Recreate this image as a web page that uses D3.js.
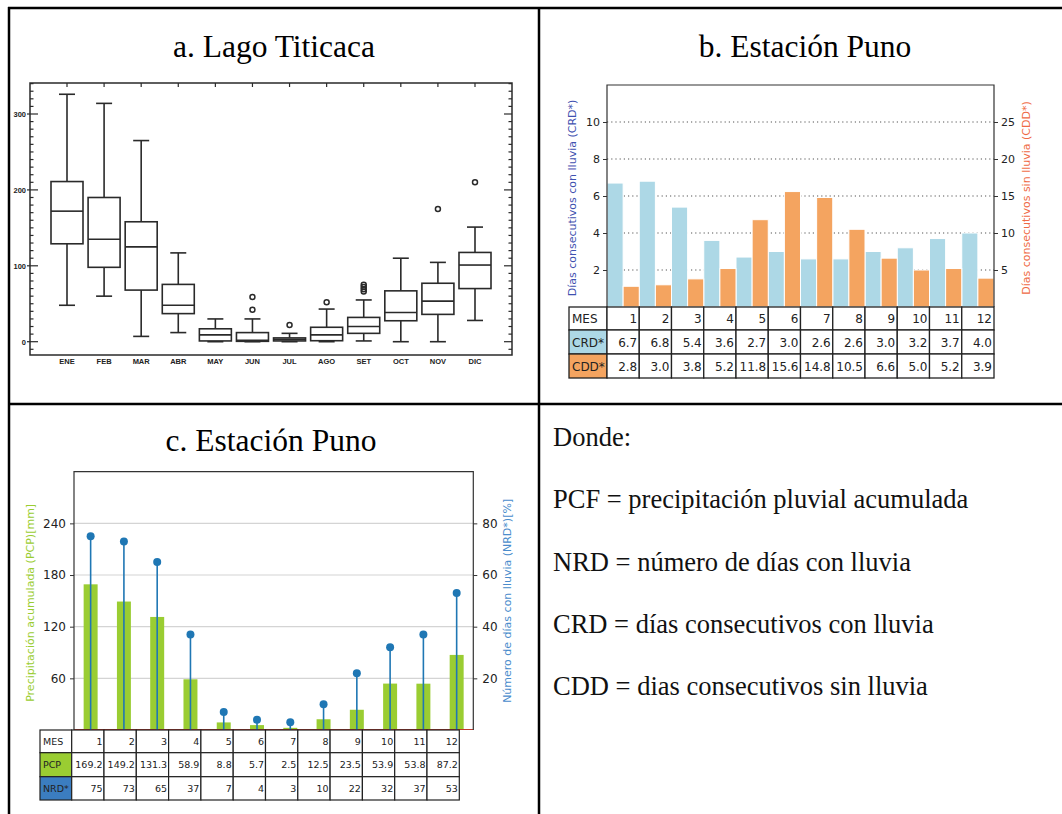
<!DOCTYPE html>
<html>
<head>
<meta charset="utf-8">
<script src="https://cdn.jsdelivr.net/npm/d3@7"></script>
<style>
  html, body { margin: 0; padding: 0; background: #fff; }
  svg { display: block; }
</style>
</head>
<body>
<svg id="chart" width="1062" height="814"></svg>
<script>
// ---------- Panel a data (boxplot, Lago Titicaca) ----------
const monthsA = ["ENE","FEB","MAR","ABR","MAY","JUN","JUL","AGO","SET","OCT","NOV","DIC"];
const whiskLo = [48, 60, 7, 12, 0, 0, 0, 0, 1, 0, 0, 28];
const q1A     = [129, 98, 68, 37, 1, 0.5, 1, 1.3, 11, 27.6, 36, 70];
const medA    = [172, 135, 125, 48, 9, 2, 3, 9, 20, 38.5, 53.5, 101];
const q3A     = [211, 190, 158, 75.5, 17, 12, 5, 19, 32, 67, 77, 117.6];
const whiskHi = [326, 314, 265, 117, 30, 30, 11, 43, 55, 110, 104.5, 151];
const outliersA = [[], [], [], [], [], [59, 42], [22], [52], [66, 69, 72, 75], [], [175], [210]];
const yTicksA = [0, 100, 200, 300];

// ---------- Panel b data ----------
const mesB = [1,2,3,4,5,6,7,8,9,10,11,12];
const crd = [6.7, 6.8, 5.4, 3.6, 2.7, 3.0, 2.6, 2.6, 3.0, 3.2, 3.7, 4.0];
const cdd = [2.8, 3.0, 3.8, 5.2, 11.8, 15.6, 14.8, 10.5, 6.6, 5.0, 5.2, 3.9];
const yTicksBL = [2, 4, 6, 8, 10];
const yTicksBR = [5, 10, 15, 20, 25];

// ---------- Panel c data ----------
const mesC = [1,2,3,4,5,6,7,8,9,10,11,12];
const pcp = [169.2, 149.2, 131.3, 58.9, 8.8, 5.7, 2.5, 12.5, 23.5, 53.9, 53.8, 87.2];
const nrd = [75, 73, 65, 37, 7, 4, 3, 10, 22, 32, 37, 53];
const yTicksCL = [60, 120, 180, 240];
const yTicksCR = [20, 40, 60, 80];

// ---------- Text panel ----------
const definitions = [
  "Donde:",
  "PCF = precipitación pluvial acumulada",
  "NRD = número de días con lluvia",
  "CRD = días consecutivos con lluvia",
  "CDD = dias consecutivos sin lluvia"
];

const svg = d3.select("#chart");
const serif = "'Liberation Serif', 'Times New Roman', serif";
const sans = "'DejaVu Sans', sans-serif";

// ================= Outer frame =================
const frame = svg.append("g").attr("stroke", "#000").attr("stroke-width", 2.5);
frame.append("line").attr("x1", 9).attr("x2", 9).attr("y1", 7).attr("y2", 814);
frame.append("line").attr("x1", 8).attr("x2", 1062).attr("y1", 8).attr("y2", 8);
frame.append("line").attr("x1", 8).attr("x2", 1062).attr("y1", 404).attr("y2", 404);
frame.append("line").attr("x1", 539).attr("x2", 539).attr("y1", 8).attr("y2", 814);

// Titles
const titles = [
  {t: "a. Lago Titicaca", x: 274, y: 57},
  {t: "b. Estación Puno", x: 805, y: 57},
  {t: "c. Estación Puno", x: 271, y: 451}
];
svg.selectAll("text.title").data(titles).enter().append("text")
  .attr("class", "title")
  .attr("x", d => d.x).attr("y", d => d.y)
  .attr("text-anchor", "middle")
  .style("font-family", serif).style("font-size", "31.5px")
  .text(d => d.t);

// ================= Panel a =================
(function() {
  const g = svg.append("g");
  const L = 30, R = 512, T = 83, B = 355;
  const x = d3.scalePoint().domain(monthsA).range([67, 475]);
  const y = d3.scaleLinear().domain([0, 300]).range([341.7, 114]);
  const col = "#2a2a2a";
  const bw = 32;

  const minor = d3.range(-10, 341, 10);
  minor.forEach(v => {
    const major = v % 100 === 0;
    g.append("line").attr("x1", L - (major ? 3 : 0)).attr("x2", L + (major ? 8 : 3.5))
      .attr("y1", y(v)).attr("y2", y(v)).attr("stroke", col).attr("stroke-width", 1.2);
    g.append("line").attr("x1", R - (major ? 8 : 3.5)).attr("x2", R)
      .attr("y1", y(v)).attr("y2", y(v)).attr("stroke", col).attr("stroke-width", 1.2);
  });
  monthsA.forEach(m => {
    g.append("line").attr("x1", x(m)).attr("x2", x(m)).attr("y1", T).attr("y2", T + 4)
      .attr("stroke", col).attr("stroke-width", 1.2);
  });
  g.append("rect").attr("x", L).attr("y", T).attr("width", R - L).attr("height", B - T)
    .attr("fill", "none").attr("stroke", col).attr("stroke-width", 1.5);

  g.selectAll("text.yt").data(yTicksA).enter().append("text")
    .attr("x", L - 4).attr("y", d => y(d) + 2.8)
    .attr("text-anchor", "end")
    .style("font-family", "'Liberation Sans', Arial, sans-serif")
    .style("font-weight", "bold").style("font-size", "7.5px").attr("fill", "#222")
    .text(d => d);
  g.selectAll("text.xt").data(monthsA).enter().append("text")
    .attr("x", d => x(d)).attr("y", 363.5)
    .attr("text-anchor", "middle")
    .style("font-family", "'Liberation Sans', Arial, sans-serif")
    .style("font-weight", "bold").style("font-size", "7.5px").attr("fill", "#222")
    .text(d => d);

  monthsA.forEach((m, i) => {
    const cx = x(m);
    const ln = (x1, y1, x2, y2) => g.append("line").attr("x1", x1).attr("y1", y1)
      .attr("x2", x2).attr("y2", y2).attr("stroke", col).attr("stroke-width", 1.6);
    ln(cx, y(q3A[i]), cx, y(whiskHi[i]));
    ln(cx, y(q1A[i]), cx, y(whiskLo[i]));
    ln(cx - bw / 4, y(whiskHi[i]), cx + bw / 4, y(whiskHi[i]));
    ln(cx - bw / 4, y(whiskLo[i]), cx + bw / 4, y(whiskLo[i]));
    g.append("rect").attr("x", cx - bw / 2).attr("y", y(q3A[i]))
      .attr("width", bw).attr("height", Math.max(1, y(q1A[i]) - y(q3A[i])))
      .attr("fill", "#fff").attr("stroke", col).attr("stroke-width", 1.6);
    ln(cx - bw / 2, y(medA[i]), cx + bw / 2, y(medA[i]));
    outliersA[i].forEach(o => {
      g.append("circle").attr("cx", cx).attr("cy", y(o)).attr("r", 2.5)
        .attr("fill", "none").attr("stroke", col).attr("stroke-width", 1.5);
    });
  });
})();

// ================= Panel b =================
(function() {
  const g = svg.append("g");
  const L = 607, R = 994, T = 85, B = 307;
  const x = d3.scaleBand().domain(mesB).range([L, R]).padding(0);
  const yL = d3.scaleLinear().domain([0, 12]).range([B, T]);
  const yR = d3.scaleLinear().domain([0, 30]).range([B, T]);
  const bw = x.bandwidth();

  g.selectAll("line.grid").data(yTicksBL).enter().append("line")
    .attr("x1", L).attr("x2", R).attr("y1", d => yL(d)).attr("y2", d => yL(d))
    .attr("stroke", "#555").attr("stroke-width", 1.1).attr("stroke-dasharray", "1.2,3");

  g.selectAll("rect.crd").data(crd).enter().append("rect")
    .attr("x", (d, i) => x(mesB[i])).attr("y", d => yL(d))
    .attr("width", bw / 2).attr("height", d => B - yL(d))
    .attr("fill", "#add8e6").attr("stroke", "#fff").attr("stroke-width", 1);
  g.selectAll("rect.cdd").data(cdd).enter().append("rect")
    .attr("x", (d, i) => x(mesB[i]) + bw / 2).attr("y", d => yR(d))
    .attr("width", bw / 2).attr("height", d => B - yR(d))
    .attr("fill", "#f4a460").attr("stroke", "#fff").attr("stroke-width", 1);

  const axL = g.append("g").attr("transform", `translate(${L},0)`)
    .call(d3.axisLeft(yL).tickValues(yTicksBL).tickSize(4).tickPadding(3));
  const axR = g.append("g").attr("transform", `translate(${R},0)`)
    .call(d3.axisRight(yR).tickValues(yTicksBR).tickSize(4).tickPadding(3));
  [axL, axR].forEach(a => {
    a.select(".domain").remove();
    a.selectAll("text").style("font-family", sans).style("font-size", "11px").attr("fill", "#222");
    a.selectAll("line").attr("stroke", "#333");
  });
  g.append("path").attr("d", `M${L},${B}V${T}H${R}V${B}`)
    .attr("fill", "none").attr("stroke", "#333").attr("stroke-width", 1.2);

  g.append("text").attr("transform", `translate(576,${(T + B) / 2 + 2}) rotate(-90)`)
    .attr("text-anchor", "middle").style("font-family", sans).style("font-size", "11px")
    .attr("fill", "#3f51b0").text("Días consecutivos con lluvia (CRD*)");
  g.append("text").attr("transform", `translate(1030,${(T + B) / 2 + 2}) rotate(-90)`)
    .attr("text-anchor", "middle").style("font-family", sans).style("font-size", "11px")
    .attr("fill", "#ef6a45").text("Días consecutivos sin lluvia (CDD*)");

  const rowsY = [307, 330, 354, 378];
  const rows = [
    {head: "MES", fill: "#fff", vals: mesB.map(String)},
    {head: "CRD*", fill: "#add8e6", vals: crd.map(v => v.toFixed(1))},
    {head: "CDD*", fill: "#f4a460", vals: cdd.map(v => v.toFixed(1))}
  ];
  const t0 = 569;
  rows.forEach((r, ri) => {
    const y0 = rowsY[ri], h = rowsY[ri + 1] - y0;
    g.append("rect").attr("x", t0).attr("y", y0).attr("width", L - t0).attr("height", h)
      .attr("fill", r.fill).attr("stroke", "#222").attr("stroke-width", 1.3);
    g.append("text").attr("x", t0 + 3).attr("y", y0 + h / 2 + 4.5)
      .style("font-family", sans).style("font-size", "12px").attr("fill", "#222").text(r.head);
    r.vals.forEach((v, i) => {
      g.append("rect").attr("x", x(mesB[i])).attr("y", y0).attr("width", bw).attr("height", h)
        .attr("fill", "#fff").attr("stroke", "#222").attr("stroke-width", 1.3);
      g.append("text").attr("x", x(mesB[i]) + bw - 2).attr("y", y0 + h / 2 + 4.5)
        .attr("text-anchor", "end")
        .style("font-family", sans).style("font-size", "12px").attr("fill", "#222").text(v);
    });
  });
})();

// ================= Panel c =================
(function() {
  const g = svg.append("g");
  const L = 74, R = 473.3, T = 471.7, B = 730;
  const x = d3.scaleBand().domain(mesC).range([L, R]).padding(0);
  const yL = d3.scaleLinear().domain([0, 300]).range([B, T]);
  const yR = d3.scaleLinear().domain([0, 100]).range([B, T]);
  const bw = x.bandwidth() * 0.42;

  g.selectAll("line.grid").data(yTicksCL).enter().append("line")
    .attr("x1", L).attr("x2", R).attr("y1", d => yL(d)).attr("y2", d => yL(d))
    .attr("stroke", "#d4d4d4").attr("stroke-width", 1.2);

  g.selectAll("rect.pcp").data(pcp).enter().append("rect")
    .attr("x", (d, i) => x(mesC[i]) + x.bandwidth() / 2 - bw / 2).attr("y", d => yL(d))
    .attr("width", bw).attr("height", d => B - yL(d))
    .attr("fill", "#9acd32");

  g.append("line").attr("x1", L).attr("x2", R).attr("y1", B - 0.5).attr("y2", B - 0.5)
    .attr("stroke", "#c0392b").attr("stroke-width", 1.2);

  g.selectAll("line.stem").data(nrd).enter().append("line")
    .attr("x1", (d, i) => x(mesC[i]) + x.bandwidth() / 2)
    .attr("x2", (d, i) => x(mesC[i]) + x.bandwidth() / 2)
    .attr("y1", B).attr("y2", d => yR(d))
    .attr("stroke", "#1f77b4").attr("stroke-width", 1.6);
  g.selectAll("circle.stem").data(nrd).enter().append("circle")
    .attr("cx", (d, i) => x(mesC[i]) + x.bandwidth() / 2)
    .attr("cy", d => yR(d)).attr("r", 4)
    .attr("fill", "#1f77b4");

  const axL = g.append("g").attr("transform", `translate(${L},0)`)
    .call(d3.axisLeft(yL).tickValues(yTicksCL).tickSize(4).tickPadding(4));
  const axR = g.append("g").attr("transform", `translate(${R},0)`)
    .call(d3.axisRight(yR).tickValues(yTicksCR).tickSize(4).tickPadding(5));
  [axL, axR].forEach(a => {
    a.select(".domain").remove();
    a.selectAll("text").style("font-family", sans).style("font-size", "12px").attr("fill", "#222");
    a.selectAll("line").attr("stroke", "#333");
  });
  g.append("path").attr("d", `M${L},${B}V${T}H${R}V${B}`)
    .attr("fill", "none").attr("stroke", "#333").attr("stroke-width", 1.2);

  g.append("text").attr("transform", `translate(34,${(T + B) / 2 + 2}) rotate(-90)`)
    .attr("text-anchor", "middle").style("font-family", sans).style("font-size", "11px")
    .attr("fill", "#9acd32").text("Precipitación acumulada (PCP)[mm]");
  g.append("text").attr("transform", `translate(511,${(T + B) / 2}) rotate(-90)`)
    .attr("text-anchor", "middle").style("font-family", sans).style("font-size", "11px")
    .attr("fill", "#4a8ccc").text("Número de días con lluvia (NRD*)[%]");

  const xt = d3.scaleBand().domain(mesC).range([71.7, 459.3]).padding(0);
  const tbw = xt.bandwidth();
  const rowsY = [730, 752.7, 776.7, 800];
  const rows = [
    {head: "MES", fill: "#fff", vals: mesC.map(String)},
    {head: "PCP", fill: "#9acd32", vals: pcp.map(v => v.toFixed(1))},
    {head: "NRD*", fill: "#3b7dc0", vals: nrd.map(String)}
  ];
  const t0 = 40;
  rows.forEach((r, ri) => {
    const y0 = rowsY[ri], h = rowsY[ri + 1] - y0;
    g.append("rect").attr("x", t0).attr("y", y0).attr("width", 71.7 - t0).attr("height", h)
      .attr("fill", r.fill).attr("stroke", "#222").attr("stroke-width", 1.2);
    g.append("text").attr("x", t0 + 3).attr("y", y0 + h / 2 + 3.5)
      .style("font-family", sans).style("font-size", "9.5px").attr("fill", "#222").text(r.head);
    r.vals.forEach((v, i) => {
      g.append("rect").attr("x", xt(mesC[i])).attr("y", y0).attr("width", tbw).attr("height", h)
        .attr("fill", "#fff").attr("stroke", "#222").attr("stroke-width", 1.2);
      g.append("text").attr("x", xt(mesC[i]) + tbw - 1.5).attr("y", y0 + h / 2 + 3.5)
        .attr("text-anchor", "end")
        .style("font-family", sans).style("font-size", "9.5px").attr("fill", "#222").text(v);
    });
  });
})();

// ================= Text panel =================
svg.selectAll("text.def").data(definitions).enter().append("text")
  .attr("x", 553).attr("y", (d, i) => 446 + i * 62.3)
  .style("font-family", serif).style("font-size", "26.5px").attr("fill", "#111")
  .text(d => d);
</script>
</body>
</html>
